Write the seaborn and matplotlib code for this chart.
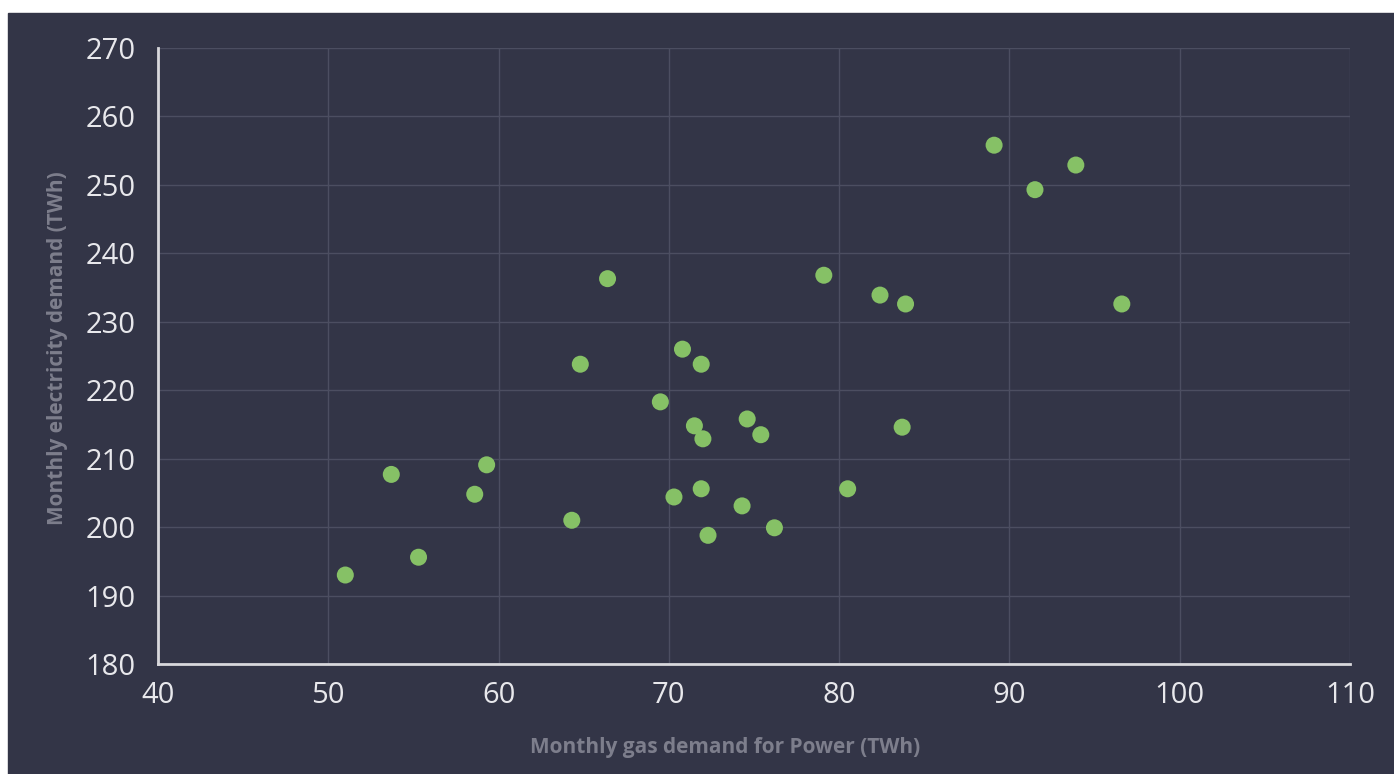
import numpy as np
import pandas as pd
import matplotlib.pyplot as plt
import seaborn as sns
from matplotlib.patches import Rectangle

# --- Data ---
gas_power = [51.0, 53.7, 55.3, 58.6, 59.3, 64.3, 64.8, 66.4, 69.5, 70.3,
             70.8, 71.5, 71.9, 72.0, 71.9, 72.3, 74.3, 74.6, 75.4, 76.2,
             79.1, 80.5, 82.4, 83.7, 83.9, 89.1, 91.5, 93.9, 96.6]
electricity = [193.0, 207.7, 195.6, 204.8, 209.1, 201.0, 223.8, 236.3, 218.3, 204.4,
               226.0, 214.8, 223.8, 212.9, 205.6, 198.8, 203.1, 215.8, 213.5, 199.9,
               236.8, 205.6, 233.9, 214.6, 232.6, 255.8, 249.3, 252.9, 232.6]
x_ticks = [40, 50, 60, 70, 80, 90, 100, 110]
y_ticks = [180, 190, 200, 210, 220, 230, 240, 250, 260, 270]

df = pd.DataFrame({'gas': gas_power, 'elec': electricity})

bg = '#333547'
sns.set_theme(style='dark')
plt.rcParams['font.family'] = ['Open Sans', 'DejaVu Sans']

fig = plt.figure(figsize=(13.94, 7.74), dpi=100, facecolor='white')
# dark panel, leaving a thin white margin at top and left
fig.patches.append(Rectangle((8 / 1394, 0), 1, 1 - 13 / 774,
                             transform=fig.transFigure, color=bg, zorder=-10))

ax = fig.add_axes([158 / 1394, 1 - 664 / 774, (1350 - 158) / 1394, (664 - 48) / 774])
ax.set_facecolor(bg)

sns.scatterplot(data=df, x='gas', y='elec', ax=ax, s=150, color='#86c166',
                edgecolor='none', linewidth=0, zorder=3)

ax.set_xlim(40, 110)
ax.set_ylim(180, 270)
ax.set_xticks(x_ticks)
ax.set_yticks(y_ticks)
ax.grid(True, color='#4c4e61', linewidth=1)
ax.set_axisbelow(True)

for side in ['top', 'right']:
    ax.spines[side].set_visible(False)
for side in ['left', 'bottom']:
    ax.spines[side].set_color('#d8d8dc')
    ax.spines[side].set_linewidth(2)

ax.tick_params(axis='both', length=0, labelsize=21, labelcolor='#e8e8ec')
ax.tick_params(axis='x', pad=12)
ax.tick_params(axis='y', pad=16)

ax.set_xlabel('Monthly gas demand for Power (TWh)', fontsize=15,
              fontweight='bold', color='#7d7e8c', va='center', ha='center')
ax.set_ylabel('Monthly electricity demand (TWh)', fontsize=15,
              fontweight='bold', color='#7d7e8c', va='center', ha='center')
ax.xaxis.set_label_coords(0.4757, -0.136)
ax.yaxis.set_label_coords(-0.0847, 0.513)

fig.savefig('out.png', dpi=100, facecolor='white')
